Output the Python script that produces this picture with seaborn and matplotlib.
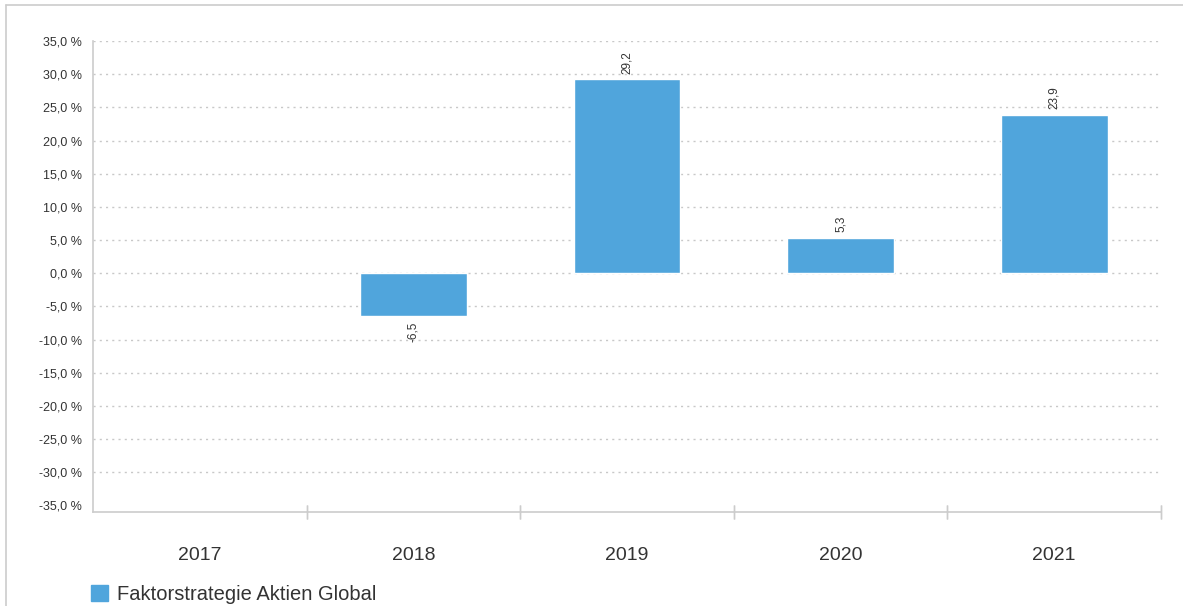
import numpy as np
import pandas as pd
import matplotlib.pyplot as plt
import matplotlib.lines as mlines
import matplotlib.patches as mpatches
import seaborn as sns

years = ["2017", "2018", "2019", "2020", "2021"]
returns = [np.nan, -6.5, 29.2, 5.3, 23.9]
series_name = "Faktorstrategie Aktien Global"
y_ticks = list(range(-35, 40, 5))

BAR_COLOR = "#50a5dc"
TEXT_COLOR = "#333333"
LINE_COLOR = "#cccccc"


def fmt(v):
    return f"{v:.1f}".replace(".", ",")


df = pd.DataFrame({"year": years, "value": returns})

sns.set_style("white")
plt.rcParams["font.family"] = ["Liberation Sans", "DejaVu Sans"]

fig = plt.figure(figsize=(11.83, 6.06), dpi=100)
W, H = 1183, 606
ax = fig.add_axes([93 / W, 1 - 512 / H, (1161 - 93) / W, (512 - 41) / H])

sns.barplot(data=df, x="year", y="value", order=years, color=BAR_COLOR,
            width=0.5, saturation=1, ax=ax, zorder=3)

# axis line sits a little below the -35 tick
y_bottom = -36.0
ax.set_xlim(-0.5, len(years) - 0.5)
ax.set_ylim(y_bottom, 35)
ax.set_yticks(y_ticks)
ax.set_yticklabels([fmt(t) + " %" for t in y_ticks], fontsize=9, color=TEXT_COLOR)
ax.tick_params(axis="y", length=0, pad=8)
ax.tick_params(axis="x", length=0, pad=25, labelsize=14, labelcolor=TEXT_COLOR)
ax.set_xlabel("")
ax.set_ylabel("")

# dotted horizontal gridlines (none at the bottom tick)
for t in y_ticks[1:]:
    ax.axhline(t, color="#c8c8c8", lw=1, ls=(0, (1.5, 3)), zorder=1)

for side in ["top", "right"]:
    ax.spines[side].set_visible(False)
for side in ["left", "bottom"]:
    ax.spines[side].set_color(LINE_COLOR)
    ax.spines[side].set_linewidth(1.2)

# ticks on category boundaries
for b in np.arange(0.5, len(years), 1.0):
    ax.plot([b, b], [y_bottom, y_bottom], marker="|", ms=10, color=LINE_COLOR,
            clip_on=False, zorder=4)

# value labels
for i, v in enumerate(returns):
    if np.isnan(v):
        continue
    if v >= 0:
        ax.annotate(fmt(v), (i, v), xytext=(0, 4), textcoords="offset points",
                    rotation=90, ha="center", va="bottom", fontsize=8.5,
                    color=TEXT_COLOR)
    else:
        ax.annotate(fmt(v), (i, v), xytext=(0, -4), textcoords="offset points",
                    rotation=90, ha="center", va="top", fontsize=8.5,
                    color=TEXT_COLOR)

# legend
handle = mpatches.Patch(color=BAR_COLOR, label=series_name)
fig.legend(handles=[handle], loc="lower left", bbox_to_anchor=(84 / W, -5 / H),
           borderaxespad=0, borderpad=0.35, frameon=False, fontsize=14.5,
           handlelength=0.85, handleheight=0.85, handletextpad=0.42,
           labelcolor=TEXT_COLOR)

# outer frame (top and left edges visible)
fig.add_artist(mlines.Line2D([6 / W, 1], [1 - 5 / H, 1 - 5 / H],
                             color=LINE_COLOR, lw=1.2))
fig.add_artist(mlines.Line2D([6 / W, 6 / W], [0, 1 - 5 / H],
                             color=LINE_COLOR, lw=1.2))

fig.savefig("out.png", dpi=100)
plt.close(fig)
